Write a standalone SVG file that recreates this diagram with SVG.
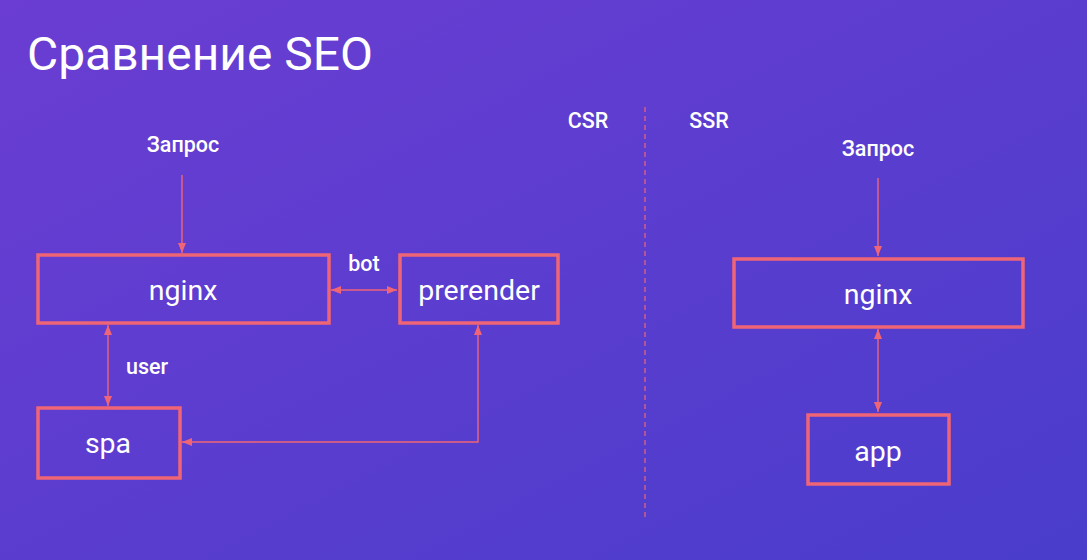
<svg xmlns="http://www.w3.org/2000/svg" width="1087" height="560" viewBox="0 0 1087 560">
<defs>
<linearGradient id="bg" x1="0" y1="0" x2="1" y2="1">
<stop offset="0" stop-color="#6b3dd2"/>
<stop offset="1" stop-color="#4a3dcc"/>
</linearGradient>
<marker id="ah" viewBox="0 0 10 10" refX="10" refY="5" markerWidth="10" markerHeight="10" markerUnits="userSpaceOnUse" orient="auto-start-reverse">
<path d="M0,1 L10,5 L0,9 z" fill="#ef6576"/>
</marker>
<style>
.box{fill:none;stroke:#ef6576;stroke-width:3.5}
.ln{fill:none;stroke:#ef6576;stroke-width:1.4}
.t{fill:#ffffff;font-family:Roboto,"Liberation Sans",sans-serif;text-anchor:middle}
.big{font-size:28.5px}
.lbl{font-size:21.5px;font-weight:500}
</style>
</defs>
<rect width="1087" height="560" fill="url(#bg)"/>
<text x="27" y="70" fill="#ffffff" font-family="Roboto,'Liberation Sans',sans-serif" font-size="47" textLength="346" lengthAdjust="spacingAndGlyphs">Сравнение SEO</text>
<text class="t lbl" x="588" y="128">CSR</text>
<text class="t lbl" x="709" y="128">SSR</text>
<line x1="645" y1="107" x2="645" y2="517" stroke="#ef6576" stroke-width="1.2" stroke-dasharray="5,4"/>
<g id="connectors">
<line class="ln" x1="182" y1="175" x2="182" y2="253" marker-end="url(#ah)"/>
<line class="ln" x1="331" y1="290" x2="397" y2="290" marker-start="url(#ah)" marker-end="url(#ah)"/>
<line class="ln" x1="108" y1="325" x2="108" y2="406" marker-start="url(#ah)" marker-end="url(#ah)"/>
<polyline class="ln" points="478,325 478,442 182,442" marker-start="url(#ah)" marker-end="url(#ah)"/>
<line class="ln" x1="878" y1="178" x2="878" y2="256" marker-end="url(#ah)"/>
<line class="ln" x1="878" y1="329" x2="878" y2="412" marker-start="url(#ah)" marker-end="url(#ah)"/>
<text class="t lbl" x="364" y="271">bot</text>
<text class="t lbl" x="147" y="374">user</text>
</g>
<g id="req-csr"><text class="t lbl" x="183" y="152">Запрос</text></g>
<g id="nginx-csr"><rect class="box" x="38" y="255" width="291" height="68"/><text class="t big" x="183" y="300">nginx</text></g>
<g id="prerender"><rect class="box" x="400" y="255" width="158" height="68"/><text class="t big" x="479" y="300">prerender</text></g>
<g id="spa"><rect class="box" x="38" y="408" width="142" height="70"/><text class="t big" x="108" y="453">spa</text></g>
<g id="req-ssr"><text class="t lbl" x="878" y="156">Запрос</text></g>
<g id="nginx-ssr"><rect class="box" x="734" y="259" width="289" height="68"/><text class="t big" x="878" y="304">nginx</text></g>
<g id="app"><rect class="box" x="808" y="415" width="141" height="69"/><text class="t big" x="878" y="461">app</text></g>
</svg>
